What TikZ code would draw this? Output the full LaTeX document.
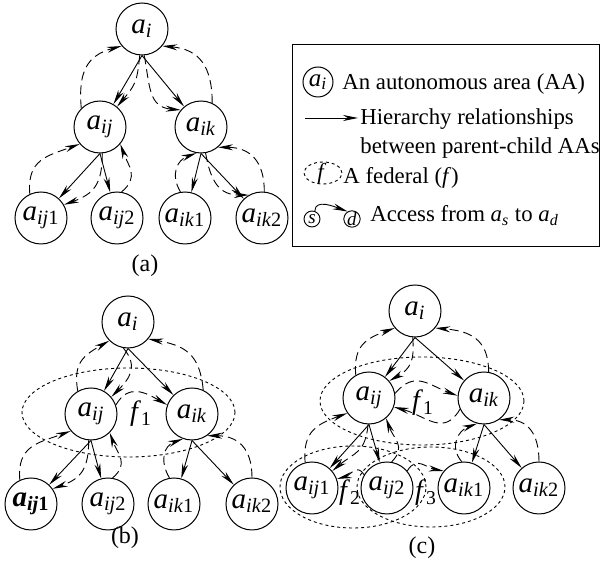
\documentclass[tikz,border=0pt]{standalone}
\usepackage{fontspec}
\setmainfont{Liberation Serif}
\usetikzlibrary{arrows.meta}
\newcommand{\lbl}[2]{\textit{a}\textsubscript{\textit{#1}#2}}
\newcommand{\lblb}[2]{\textbf{\textit{a}\textsubscript{\textit{#1}#2}}}
\begin{document}
\begin{tikzpicture}[x=0.5pt,y=-0.5pt,
 aa/.style={circle,draw,line width=0.5pt,minimum size=26pt,inner sep=0pt,font=\fontsize{14.5}{16}\selectfont},
 acctip/.style={-{Stealth[length=7.5pt,width=3pt]}},
 hier/.style={acctip,line width=0.45pt},
 acc/.style={acctip,line width=0.45pt,dash pattern=on 4.5pt off 2.5pt,looseness=1.25},
 fed/.style={line width=0.45pt,dash pattern=on 1.5pt off 1.5pt},
 flab/.style={font=\fontsize{14}{16}\selectfont,inner sep=0pt},
 captext/.style={font=\fontsize{12}{14}\selectfont,inner sep=0pt},
 leg/.style={font=\fontsize{11.4}{14}\selectfont,anchor=base west,inner sep=0pt},
]
\useasboundingbox (0,0) rectangle (602,561);

% ---------------- panel (a)
\node[aa] (Aai)  at (142,29)  {\lbl{i}{}};
\node[aa] (Aaij) at (100,127) {\lbl{ij}{}};
\node[aa] (Aaik) at (201,127) {\lbl{ik}{}};
\node[aa] (Aaij1) at (41,218)  {\lbl{ij}{1}};
\node[aa] (Aaij2) at (117,218) {\lbl{ij}{2}};
\node[aa] (Aaik1) at (185,218) {\lbl{ik}{1}};
\node[aa] (Aaik2) at (262,218) {\lbl{ik}{2}};
\node[captext] (Acap) at (145,266) {(a)};

\draw[hier] (Aai.south) -- (Aaij);
\draw[hier] (Aai.south) -- (Aaik);
\draw[hier] (Aaij.south) -- (Aaij1);
\draw[hier] (Aaij.south) -- (Aaij2);
\draw[hier] (Aaik.south) -- (Aaik1);
\draw[hier] (Aaik.south) -- (Aaik2);

\draw[acc] (Aaij.135) to[out=95,in=195] (Aai.220);
\draw[acc] (Aai.-95) to[out=-95,in=50] (Aaij.50);
\draw[acc] (Aai.-85) to[out=-80,in=175] (Aaik.140);
\draw[acc] (Aaik.65) to[out=90,in=-5] (Aai.-40);
\draw[acc] (Aaij1.115) to[out=95,in=200] (Aaij.220);
\draw[acc] (Aaij.-85) to[out=-90,in=20] (Aaij1.30);
\draw[acc] (Aaij2.80) to[out=40,in=-70] (Aaij.-40);
\draw[acc] (Aaik1.100) to[out=120,in=200] (Aaik.-100);
\draw[acc] (Aaik.-80) to[out=-80,in=180] (Aaik2.120);
\draw[acc] (Aaik2.85) to[out=90,in=0] (Aaik.-50);

% ---------------- legend
\draw[line width=0.5pt] (293,45) rectangle (600,247);
\node[aa,minimum size=15pt,font=\fontsize{12.5}{14}\selectfont] (Lai) at (318,82) {\lbl{i}{}};
\node[leg] (Lt1) at (342,89.5) {An autonomous area (AA)};
\coordinate (La1) at (305,118);
\coordinate (La2) at (358,118);
\draw[hier] (La1) -- (La2);
\node[leg] (Lt2) at (360,125) {Hierarchy relationships};
\node[leg] (Lt3) at (360,154) {between parent-child AAs};
\draw[fed] (323,173) ellipse [x radius=9.5pt, y radius=5.5pt];
\node[flab,font=\fontsize{11.5}{12}\selectfont] (Lf) at (322,174) {\textit{f}};
\node[leg] (Lt4) at (343,184) {A federal (\textit{f})};
\node[circle,draw,line width=0.45pt,minimum size=8pt,inner sep=0pt,font=\fontsize{9.5}{10}\selectfont] (Ls) at (312,219) {\textit{s}};
\node[circle,draw,line width=0.45pt,minimum size=8pt,inner sep=0pt,font=\fontsize{9.5}{10}\selectfont] (Ld) at (352,219) {\textit{d}};
\draw[hier] (Ls.70) to[out=90,in=160] (Ld.120);
\node[leg] (Lt5) at (370,222) {Access from \textit{a}\textsubscript{\textit{s}} to \textit{a}\textsubscript{\textit{d}}};

% ---------------- panel (b)
\draw[fed] (128.5,412.5) ellipse [x radius=53.25pt, y radius=22.25pt];
\node[aa] (Bai)  at (128,322) {\lbl{i}{}};
\node[aa] (Baij) at (91,414)  {\lbl{ij}{}};
\node[aa] (Baik) at (192,414) {\lbl{ik}{}};
\node[aa] (Baij1) at (31,504)  {\lblb{ij}{1}};
\node[aa] (Baij2) at (108,504) {\lbl{ij}{2}};
\node[aa] (Baik1) at (174,504) {\lbl{ik}{1}};
\node[aa] (Baik2) at (252,504) {\lbl{ik}{2}};
\node[flab] (Bf1) at (141,414) {\textit{f}\textsubscript{1}};
\node[captext] (Bcap) at (125,538) {(b)};

\draw[hier] (Bai.south) -- (Baij);
\draw[hier] (Bai.south) -- (Baik);
\draw[hier] (Baij.south) -- (Baij1);
\draw[hier] (Baij.south) -- (Baij2);
\draw[hier] (Baik.south) -- (Baik1);
\draw[hier] (Baik.south) -- (Baik2);

\draw[acc] (Baij.120) to[out=100,in=210] (Bai.225);
\draw[acc] (Bai.-100) to[out=-50,in=45] (Baij.40);
\draw[acc] (Baik.65) to[out=95,in=-10] (Bai.-40);
\draw[acc] (Baij.20) to[out=60,in=150] (Baik.160);
\draw[acc] (Baij1.115) to[out=95,in=200] (Baij.220);
\draw[acc] (Baij.-95) to[out=-90,in=20] (Baij1.35);
\draw[acc] (Baij2.80) to[out=40,in=-70] (Baij.-45);
\draw[acc] (Baik1.100) to[out=120,in=200] (Baik.-110);
\draw[acc] (Baik2.90) to[out=90,in=0] (Baik.-55);

% ---------------- panel (c)
\draw[fed] (422,401) ellipse [x radius=51pt, y radius=22pt];
\draw[fed] (353,487) ellipse [x radius=36.5pt, y radius=20.5pt];
\draw[fed] (431,487) ellipse [x radius=37pt, y radius=20pt];
\node[aa] (Cai)  at (415,311) {\lbl{i}{}};
\node[aa] (Caij) at (369,398) {\lbl{ij}{}};
\node[aa] (Caik) at (484,398) {\lbl{ik}{}};
\node[aa] (Caij1) at (312,488) {\lbl{ij}{1}};
\node[aa] (Caij2) at (387,488) {\lbl{ij}{2}};
\node[aa] (Caik1) at (464,488) {\lbl{ik}{1}};
\node[aa] (Caik2) at (539,488) {\lbl{ik}{2}};
\node[flab] (Cf1) at (423,403) {\textit{f}\textsubscript{1}};
\node[flab] (Cf2) at (350,493) {\textit{f}\textsubscript{2}};
\node[flab] (Cf3) at (426,493) {\textit{f}\textsubscript{3}};
\node[captext] (Ccap) at (422,548) {(c)};

\draw[hier] (Cai.south) -- (Caij);
\draw[hier] (Cai.south) -- (Caik);
\draw[hier] (Caij.south) -- (Caij1);
\draw[hier] (Caij.south) -- (Caij2);
\draw[hier] (Caik.south) -- (Caik1);
\draw[hier] (Caik.south) -- (Caik2);

\draw[acc] (Caij.120) to[out=95,in=200] (Cai.220);
\draw[acc] (Cai.-95) to[out=-85,in=30] (Caij.40);
\draw[acc] (Caik.80) to[out=90,in=-5] (Cai.-40);
\draw[acc] (Caij.10) to[out=50,in=160] (Caik.175);
\draw[acc] (Caik.205) to[out=-120,in=-15] (Caij.-20);
\draw[acc] (Caij1.105) to[out=95,in=200] (Caij.215);
\draw[acc] (Caij.-92) to[out=-95,in=40] (Caij1.40);
\draw[acc] (Caij2.150) to[out=120,in=15] (Caij1.20);
\draw[acc] (Caij2.80) to[out=45,in=-70] (Caij.-50);
\draw[acc] (Caij2.40) to[out=60,in=170] (Caik1.140);
\draw[acc] (Caik1.95) to[out=130,in=200] (Caik.-105);
\draw[acc] (Caik2.90) to[out=90,in=0] (Caik.-55);
\end{tikzpicture}
\end{document}
